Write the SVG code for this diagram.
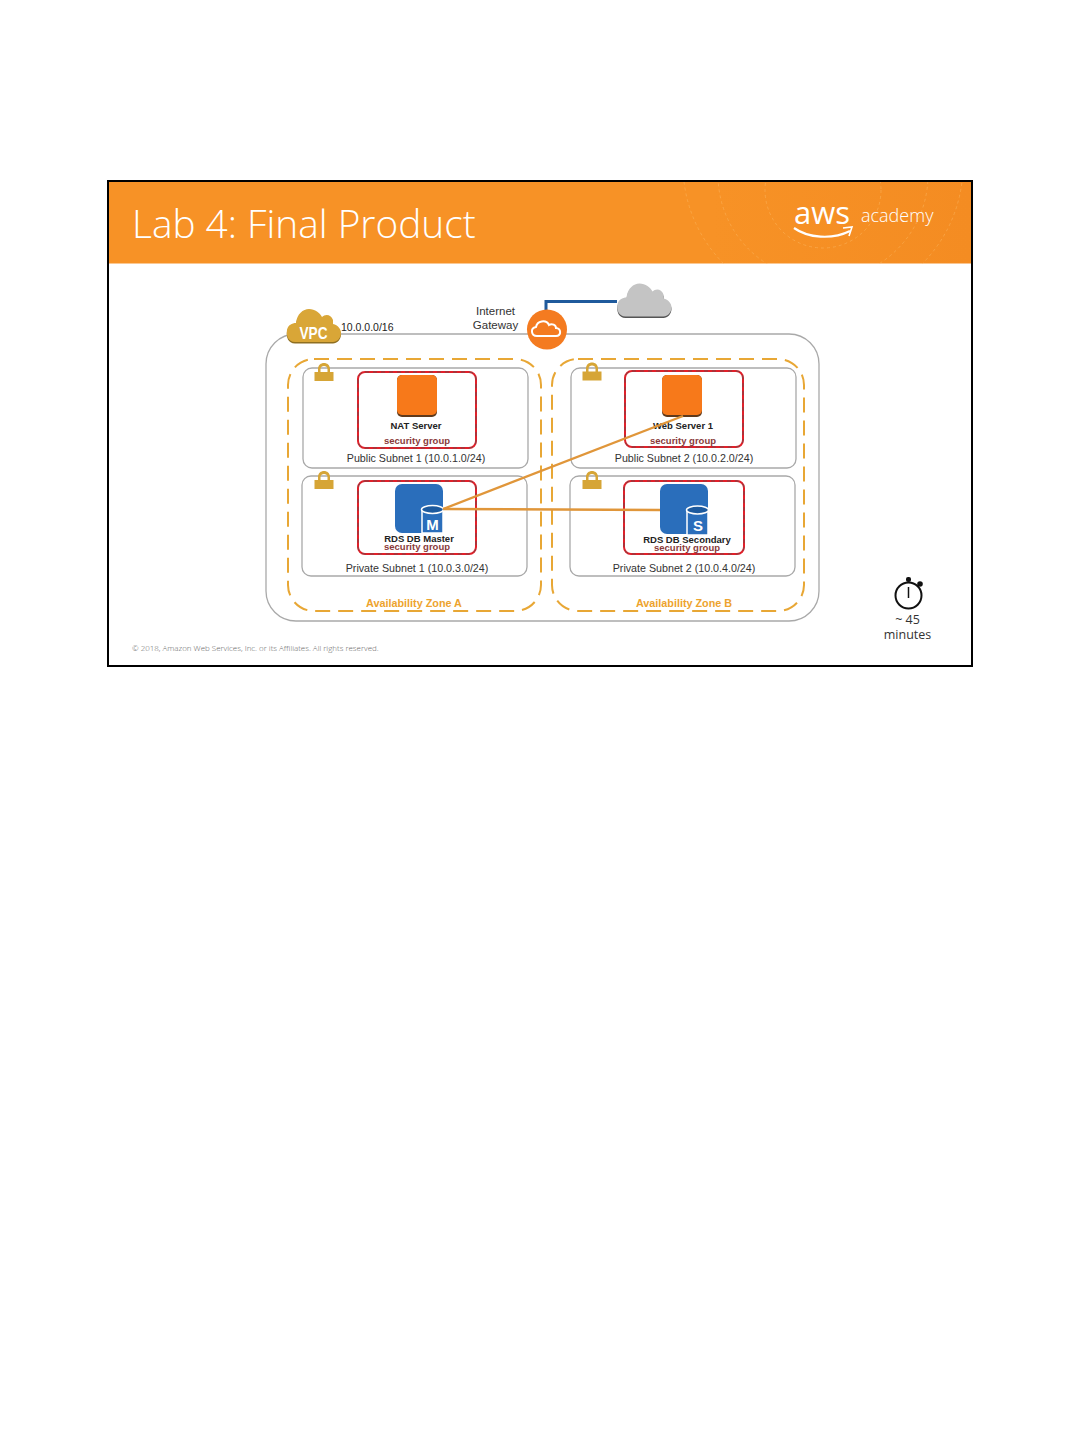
<svg xmlns="http://www.w3.org/2000/svg" width="1080" height="1440" viewBox="0 0 1080 1440">
<defs>
<path id="cloud" d="M-19,16 C-26,16 -28,9 -27,4 C-26,-1 -22,-3 -18,-3 C-17,-12 -11,-17 -5,-17 C1,-17 6,-13 8,-9 C11,-12 17,-12 19,-6 C19,-4 19,-3 19,-2 C24,-1 27,3 27,7 C27,12 23,16 19,16 Z"/>
<path id="lock" d="M-6,-2 V-5 C-6,-13 6,-13 6,-5 V-2 H3.500 V-5 C3.500,-9 -3.500,-9 -3.500,-5 V-2 Z M-9.500,-2 H9.500 V7 H-9.500 Z"/>
<linearGradient id="hdrfill" x1="0" x2="1" y1="0" y2="0"><stop offset="0" stop-color="#f79226"/><stop offset="0.7" stop-color="#f79226"/><stop offset="1" stop-color="#f48c22"/></linearGradient>
</defs>
<style>
.sans{font-family:"Liberation Sans",Arial,sans-serif}
.thin{font-family:"Open Sans","Noto Sans",sans-serif;font-weight:300}
.sub{fill:#fff;stroke:#a9a9a9;stroke-width:1.300}
.az{fill:none;stroke:#e8a735;stroke-width:2;stroke-dasharray:15 8}
.sg{fill:none;stroke:#e0202a;stroke-width:2}
.sgd{fill:none;stroke:#555;stroke-width:0.700;stroke-dasharray:4 4}
.subl{font-size:10.700px;fill:#333;text-anchor:middle}
.node{font-size:9.500px;font-weight:bold;fill:#222;text-anchor:middle}
.sgl{font-size:9.500px;font-weight:bold;fill:#8a3a3a;text-anchor:middle}
.azl{font-size:10.800px;font-weight:bold;fill:#eda32e;text-anchor:middle}
.lock{fill:#d6a536}
.arc{fill:none;stroke:#fbb45c;stroke-width:0.800;stroke-dasharray:3 3;opacity:0.700}
.conn{fill:none;stroke:#e0963a;stroke-width:2.400}
</style>
<rect width="1080" height="1440" fill="#fff"/>
<g id="slide">
<rect x="108" y="181" width="864" height="485" fill="#fff" stroke="#000" stroke-width="2"/>
<rect x="109" y="182" width="862" height="81.500" fill="url(#hdrfill)"/>
<clipPath id="hdr"><rect x="109" y="182" width="862" height="81.500"/></clipPath>
<g clip-path="url(#hdr)">
<circle cx="823" cy="190" r="58" class="arc"/>
<circle cx="823" cy="175" r="105" class="arc"/>
<circle cx="823" cy="165" r="140" class="arc"/>
</g>
<text x="132" y="238" class="thin" font-size="38.800" fill="#fff">Lab 4: Final Product</text>
<text x="794" y="224" class="thin" font-size="31" fill="#fff" style="font-weight:400">aws</text>
<path d="M794,228 C808,238 832,240 850,231" fill="none" stroke="#fff" stroke-width="2.200"/>
<path d="M843,228 L852,227 L849,236" fill="none" stroke="#fff" stroke-width="1.600"/>
<text x="861" y="222" class="thin" font-size="18" fill="#fff">academy</text>
<text x="132" y="651" class="thin" font-size="7.950" fill="#666">© 2018, Amazon Web Services, Inc. or its Affiliates. All rights reserved.</text>
</g>
<g id="vpc">
<rect x="266" y="334" width="553" height="287" rx="30" fill="#fff" stroke="#a9a9a9" stroke-width="1.300"/>
</g>
<g id="az-a">
<rect x="288" y="359" width="253" height="252" rx="26" class="az"/>
<text x="414" y="607" class="sans azl">Availability Zone A</text>
</g>
<g id="az-b">
<rect x="552" y="359" width="252" height="252" rx="26" class="az"/>
<text x="684" y="607" class="sans azl">Availability Zone B</text>
</g>
<g id="subnet-pub1">
<rect x="303" y="368" width="225" height="100" rx="9" class="sub"/>
<use href="#lock" x="324" y="374" class="lock"/>
<text x="416" y="462" class="sans subl">Public Subnet 1 (10.0.1.0/24)</text>
</g>
<g id="subnet-pub2">
<rect x="571" y="368" width="225" height="100" rx="9" class="sub"/>
<use href="#lock" x="592" y="373.500" class="lock"/>
<text x="684" y="462" class="sans subl">Public Subnet 2 (10.0.2.0/24)</text>
</g>
<g id="subnet-priv1">
<rect x="302" y="476" width="225" height="100" rx="9" class="sub"/>
<use href="#lock" x="324" y="482" class="lock"/>
<text x="417" y="571.500" class="sans subl">Private Subnet 1 (10.0.3.0/24)</text>
</g>
<g id="subnet-priv2">
<rect x="570" y="476" width="225" height="100" rx="9" class="sub"/>
<use href="#lock" x="592" y="482" class="lock"/>
<text x="684" y="572" class="sans subl">Private Subnet 2 (10.0.4.0/24)</text>
</g>
<g id="nat-server">
<rect x="358" y="372" width="118" height="76" rx="7" class="sg"/>
<rect x="358" y="372" width="118" height="76" rx="7" class="sgd"/>
<rect x="397" y="375" width="40" height="42" rx="5" fill="#5f3a1c"/>
<rect x="397" y="375" width="40" height="40" rx="5" fill="#f7791a"/>
<text x="416" y="429" class="sans node">NAT Server</text>
<text x="417" y="444" class="sans sgl">security group</text>
</g>
<g id="web-server">
<rect x="625" y="371" width="118" height="76" rx="7" class="sg"/>
<rect x="625" y="371" width="118" height="76" rx="7" class="sgd"/>
<rect x="662" y="375" width="40" height="42" rx="5" fill="#5f3a1c"/>
<rect x="662" y="375" width="40" height="40" rx="5" fill="#f7791a"/>
<text x="683" y="429" class="sans node">Web Server 1</text>
<text x="683" y="444" class="sans sgl">security group</text>
</g>
<g id="rds-master">
<rect x="358" y="481" width="118" height="73" rx="7" class="sg"/>
<rect x="358" y="481" width="118" height="73" rx="7" class="sgd"/>
<rect x="395" y="484" width="48" height="49" rx="7" fill="#2a6ebb"/>
<path d="M422,510 V533 H443 V510 Z" fill="#2a6ebb" stroke="#fff" stroke-width="1.500"/>
<ellipse cx="432.500" cy="509.500" rx="11" ry="4" fill="#1d5a9e" stroke="#fff" stroke-width="1.500"/>
<text x="432.500" y="530" class="sans" font-size="15" font-weight="bold" fill="#fff" text-anchor="middle">M</text>
<text x="419" y="541.500" class="sans node">RDS DB Master</text>
<text x="417" y="550" class="sans sgl">security group</text>
</g>
<g id="rds-secondary">
<rect x="624" y="481" width="120" height="73" rx="7" class="sg"/>
<rect x="624" y="481" width="120" height="73" rx="7" class="sgd"/>
<rect x="660" y="484" width="48" height="50" rx="7" fill="#2a6ebb"/>
<path d="M687,510 V535 H708 V510 Z" fill="#2a6ebb" stroke="#fff" stroke-width="1.500"/>
<ellipse cx="697.500" cy="510" rx="11" ry="4" fill="#1d5a9e" stroke="#fff" stroke-width="1.500"/>
<text x="698" y="531" class="sans" font-size="15" font-weight="bold" fill="#fff" text-anchor="middle">S</text>
<text x="687" y="543" class="sans node">RDS DB Secondary</text>
<text x="687" y="550.500" class="sans sgl">security group</text>
</g>
<g id="connectors">
<path class="conn" d="M443,509 L683,416"/>
<path class="conn" d="M443,509 L660,510"/>
<path d="M546,316 V301.500 H617" fill="none" stroke="#1f5a9c" stroke-width="3"/>
</g>
<g id="vpc-badge">
<use href="#cloud" x="314" y="327.500" fill="#8f6f20"/>
<use href="#cloud" x="314" y="326" fill="#d9a637"/>
<text x="313.500" y="339" class="sans" font-size="17" font-weight="bold" fill="#fff" text-anchor="middle" textLength="28" lengthAdjust="spacingAndGlyphs">VPC</text>
<text x="341" y="330.500" class="sans" font-size="10.500" fill="#222">10.0.0.0/16</text>
</g>
<g id="internet-gateway">
<circle cx="547" cy="329.500" r="20" fill="#f47b20"/>
<path d="M537,336 C531,336 530,328 536,327 C537,321 546,319 549,325 C552,323 556,325 556,328 C561,328 562,336 556,336 Z" fill="none" stroke="#fff" stroke-width="2"/>
<text x="495.500" y="315" class="sans" font-size="11.500" fill="#333" text-anchor="middle">Internet</text>
<text x="495.500" y="329" class="sans" font-size="11.500" fill="#333" text-anchor="middle">Gateway</text>
</g>
<g id="internet-cloud">
<use href="#cloud" x="644.500" y="302" fill="#555"/>
<use href="#cloud" x="644.500" y="300.500" fill="#c4c4c4"/>
</g>
<g id="timer">
<circle cx="908.500" cy="595.500" r="13" fill="none" stroke="#111" stroke-width="2"/>
<path d="M908.500,587 V598" stroke="#111" stroke-width="1.500"/>
<rect x="906" y="577" width="5" height="5" rx="2" fill="#111"/>
<circle cx="920" cy="584" r="2.800" fill="#111"/>
<text x="907.500" y="624" class="thin" font-size="12.500" fill="#333" text-anchor="middle" style="font-weight:400">~ 45</text>
<text x="907.500" y="639" class="thin" font-size="12.500" fill="#333" text-anchor="middle" style="font-weight:400">minutes</text>
</g>
</svg>
